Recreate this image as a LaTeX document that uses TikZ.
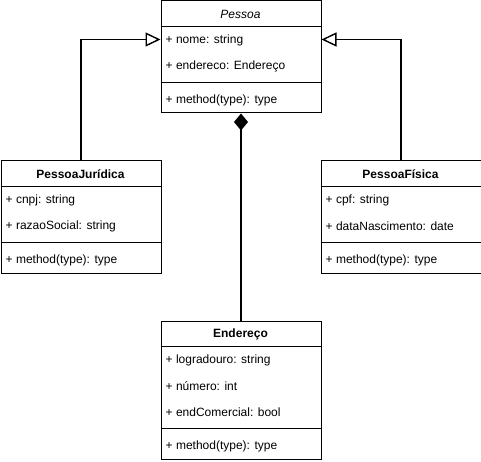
\documentclass[tikz,border=0pt]{standalone}
\usepackage{fontspec}
\setmainfont{Liberation Sans}
\usetikzlibrary{arrows.meta}
\begin{document}
\begin{tikzpicture}[x=1pt,y=-1pt,
  box/.style={draw=black,line width=1pt,fill=white,minimum width=160pt,inner sep=0pt,anchor=north west},
  hdr/.style={font=\fontsize{12}{14}\selectfont\bfseries,anchor=center},
  attr/.style={font=\fontsize{12}{14}\selectfont,anchor=west,inner sep=0pt},
  sep/.style={line width=1pt},
  conn/.style={line width=1.8pt},
  gen/.style={conn,-{Triangle[open,length=15pt,width=14pt,line width=1.4pt,fill=white]}},
  comp/.style={conn,{Diamond[length=17pt,width=14pt]}-}
]
\useasboundingbox (0,0) rectangle (481,462);
% Pessoa
\node[box,minimum height=112pt] (P) at (160.5,0.5) {};
\node[hdr,font=\fontsize{12}{14}\selectfont\itshape] (Pt) at (240.5,14) {Pessoa};
\draw[sep] (160.5,26.5) -- (320.5,26.5);
\node[attr] (Pa1) at (165.5,40) {+ nome: string};
\node[attr] (Pa2) at (165.5,66) {+ endereco: Endereço};
\draw[sep] (160.5,82.5) -- (320.5,82.5);
\node[attr] (Pm) at (165.5,100) {+ method(type): type};
% PessoaJuridica
\node[box,minimum height=112pt] (J) at (0.5,160.5) {};
\node[hdr] (Jt) at (80.5,174) {PessoaJurídica};
\draw[sep] (0.5,186.5) -- (160.5,186.5);
\node[attr] (Ja1) at (5.5,200) {+ cnpj: string};
\node[attr] (Ja2) at (5.5,226) {+ razaoSocial: string};
\draw[sep] (0.5,242.5) -- (160.5,242.5);
\node[attr] (Jm) at (5.5,260) {+ method(type): type};
% PessoaFisica
\node[box,minimum height=112pt] (F) at (320.5,160.5) {};
\node[hdr] (Ft) at (400.5,174) {PessoaFísica};
\draw[sep] (320.5,186.5) -- (480.5,186.5);
\node[attr] (Fa1) at (325.5,200) {+ cpf: string};
\node[attr] (Fa2) at (325.5,226) {+ dataNascimento: date};
\draw[sep] (320.5,242.5) -- (480.5,242.5);
\node[attr] (Fm) at (325.5,260) {+ method(type): type};
% Endereco
\node[box,minimum height=138pt] (E) at (160.5,320.5) {};
\node[hdr] (Et) at (240.5,334) {Endereço};
\draw[sep] (160.5,346.5) -- (320.5,346.5);
\node[attr] (Ea1) at (165.5,360) {+ logradouro: string};
\node[attr] (Ea2) at (165.5,386) {+ número: int};
\node[attr] (Ea3) at (165.5,412) {+ endComercial: bool};
\draw[sep] (160.5,428.5) -- (320.5,428.5);
\node[attr] (Em) at (165.5,446) {+ method(type): type};
% connectors
\draw[gen] (J.north) |- (P.west |- 0,39.5);
\draw[gen] (F.north) |- (P.east |- 0,39.5);
\draw[comp] (P.south) -- (E.north);
\end{tikzpicture}
\end{document}
